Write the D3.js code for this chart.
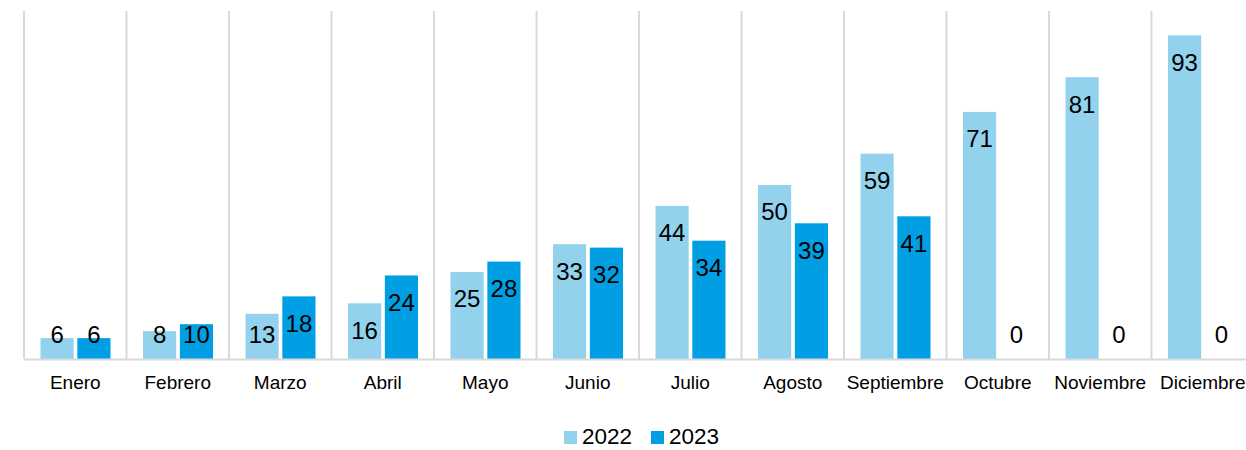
<!DOCTYPE html>
<html><head><meta charset="utf-8">
<script src="https://cdn.jsdelivr.net/npm/d3@7"></script>
<style>html,body{margin:0;padding:0;background:#fff;overflow:hidden}svg{display:block}text{font-family:"Liberation Sans",Arial,sans-serif}</style>
</head><body>
<svg id="c" width="1246" height="450"></svg>
<script>
const categories = ["Enero","Febrero","Marzo","Abril","Mayo","Junio","Julio","Agosto","Septiembre","Octubre","Noviembre","Diciembre"];
const seriesNames = ["2022","2023"];
const values2022 = [6,8,13,16,25,33,44,50,59,71,81,93];
const values2023 = [6,10,18,24,28,32,34,39,41,0,0,0];
const colors = ["#92D2EC","#009FE3"];

(function(){
const svg = d3.select("#c");
const pLeft = 24, pRight = 1254, pTop = 11, pBottom = 359;
const x0 = d3.scaleBand().domain(categories).range([pLeft, pRight]).paddingInner(0).paddingOuter(0);
const x1 = d3.scaleBand().domain(seriesNames).range([16.5, 86.5]).paddingInner(0.1).paddingOuter(0);
const y = d3.scaleLinear().domain([0, 100]).range([pBottom, pTop]);

// vertical gridlines at category boundaries
const bounds = categories.map(c => x0(c)).concat([pRight]);
svg.append("g").selectAll("line").data(bounds).join("line")
  .attr("x1", d => d).attr("x2", d => d)
  .attr("y1", pTop).attr("y2", pBottom)
  .attr("stroke", "#D9D9D9").attr("stroke-width", 2);

const data = categories.map((c, i) => ({cat: c, vals: [
  {s: "2022", v: values2022[i]}, {s: "2023", v: values2023[i]}]}));

const g = svg.append("g").selectAll("g").data(data).join("g")
  .attr("transform", d => `translate(${x0(d.cat)},0)`);
g.selectAll("rect").data(d => d.vals).join("rect")
  .attr("x", d => x1(d.s)).attr("width", x1.bandwidth())
  .attr("y", d => y(d.v)).attr("height", d => y(0) - y(d.v))
  .attr("fill", (d, i) => colors[i]);
g.selectAll("text").data(d => d.vals).join("text")
  .attr("x", d => x1(d.s) + x1.bandwidth() / 2)
  .attr("y", d => Math.min(y(d.v) + 27, pBottom - 24))
  .attr("dy", "0.35em")
  .attr("text-anchor", "middle")
  .attr("font-size", 24).attr("fill", "#000")
  .text(d => d.v);

// baseline
svg.append("line").attr("x1", pLeft).attr("x2", pRight).attr("y1", pBottom + 0.5).attr("y2", pBottom + 0.5)
  .attr("stroke", "#D9D9D9").attr("stroke-width", 2);

// x axis labels
const xAxis = d3.axisBottom(x0).tickSize(0).tickPadding(0);
const ax = svg.append("g").attr("transform", `translate(0,${pBottom})`).call(xAxis);
ax.select(".domain").remove();
ax.selectAll("text").attr("font-size", 19).attr("fill", "#000").attr("dy", null).attr("y", 30)
  .attr("font-family", '"Liberation Sans",Arial,sans-serif');

// legend
const legendX = [564, 651];
const lg = svg.append("g").selectAll("g").data(seriesNames).join("g")
  .attr("transform", (d, i) => `translate(${legendX[i]},431)`);
lg.append("rect").attr("width", 13).attr("height", 13).attr("fill", (d, i) => colors[i]);
lg.append("text").attr("x", 18).attr("y", 13).attr("font-size", 22.5).attr("fill", "#000").text(d => d);
})();
</script>
</body></html>
